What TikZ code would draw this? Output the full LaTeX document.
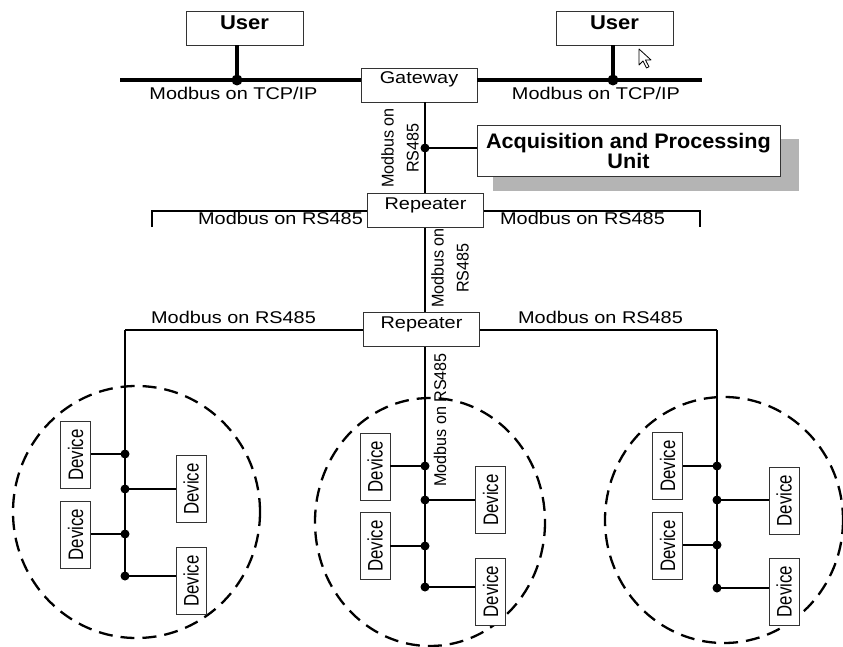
\documentclass[tikz,border=0pt]{standalone}
\usepackage{fontspec}
\setmainfont{Liberation Sans}
\newfontfamily\busfont[FakeStretch=1.17]{Liberation Sans}
\newfontfamily\vbusfont[FakeStretch=0.95]{Liberation Sans}
\newfontfamily\devfont[FakeStretch=0.8]{Liberation Sans}
\newfontfamily\userfont[FakeStretch=1.1]{Liberation Sans}
\newfontfamily\unitfont[FakeStretch=1.03]{Liberation Sans}
\definecolor{boxline}{HTML}{333333}
\definecolor{shadowgray}{HTML}{B4B4B4}
\begin{document}
\begin{tikzpicture}[x=1pt,y=-1pt,
  box/.style={draw=boxline,fill=white,line width=0.9pt,inner sep=0pt},
  userbox/.style={box,minimum width=117pt,minimum height=34pt,text height=14pt,text depth=10pt,
    font=\userfont\bfseries\fontsize{20}{24}\selectfont},
  smallbox/.style={box,minimum width=116pt,minimum height=34pt,text height=12pt,text depth=14pt,
    font=\busfont\fontsize{17}{20}\selectfont},
  device/.style={box,rotate=90,minimum width=67pt,minimum height=30pt,
    font=\devfont\fontsize{21}{24}\selectfont},
  lbl/.style={inner sep=0pt,anchor=base,font=\busfont\fontsize{17}{20}\selectfont},
  vlbl/.style={inner sep=0pt,rotate=90,align=center,font=\vbusfont\fontsize{17}{25}\selectfont},
  tcp/.style={line width=4.5pt},
  bus/.style={line width=2pt},
  zone/.style={line width=2.3pt,dash pattern=on 14pt off 8pt}]
\useasboundingbox (0,0) rectangle (843,647);

% segments
\draw[zone] (136.5,512) ellipse (123.5 and 126);
\draw[zone] (430,522) ellipse (115 and 124);
\draw[zone] (724,520) ellipse (119 and 123);

% boxes
\node[userbox] (userA) at (244.5,28) {User};
\node[userbox] (userB) at (614.5,28) {User};
\node[smallbox] (gateway) at (419,85) {Gateway};
\node[smallbox] (rep1) at (425.5,210.5) {Repeater};
\node[smallbox] (rep2) at (421.5,329.5) {Repeater};
\fill[shadowgray] (493,139) rectangle (799,191);
\node[box,minimum width=303pt,minimum height=51pt,align=center,
  font=\unitfont\bfseries\fontsize{21}{20}\selectfont] (acq) at (628.5,150.5) {Acquisition and Processing\\Unit};

% TCP/IP network
\coordinate (tcpW) at (120,80);
\coordinate (tcpE) at (702,80);
\coordinate (tapA) at (237,80);
\coordinate (tapB) at (613,80);
\draw[tcp] (tcpW) -- (tcpW -| gateway.west);
\draw[tcp] (tcpE -| gateway.east) -- (tcpE);
\draw[tcp] (tapA) -- (tapA |- userA.south);
\draw[tcp] (tapB) -- (tapB |- userB.south);
\fill (tapA) circle (5.5);
\fill (tapB) circle (5.5);
\node[lbl] (tcpLA) at (233.5,100) {Modbus on TCP/IP};
\node[lbl] (tcpLB) at (596,100) {Modbus on TCP/IP};

% RS485 trunk
\coordinate (acqTap) at (425,148);
\draw[bus] (gateway.south -| acqTap) -- (rep1.north -| acqTap);
\draw[bus] (acqTap) -- (acqTap -| acq.west);
\fill (acqTap) circle (4.5);
\draw[bus] (rep1.south -| acqTap) -- (rep2.north -| acqTap);
\node[vlbl] (rsG) at (400,148) {Modbus on\\RS485};
\node[vlbl] (rsR) at (450,268) {Modbus on\\RS485};

\coordinate (r1W) at (152,211);
\coordinate (r1E) at (700,211);
\draw[bus] ([yshift=-16pt]r1W) -- (r1W) -- (r1W -| rep1.west);
\draw[bus] (r1E -| rep1.east) -- (r1E) -- ([yshift=-16pt]r1E);
\node[lbl] (rsA) at (280.5,225) {Modbus on RS485};
\node[lbl] (rsB) at (582.5,225) {Modbus on RS485};

\coordinate (dropL) at (125,330);
\coordinate (dropR) at (717,330);
\draw[bus] (rep2.west |- dropL) -- (dropL);
\draw[bus] (rep2.east |- dropR) -- (dropR);
\node[lbl] (rsC) at (233.5,323) {Modbus on RS485};
\node[lbl] (rsD) at (600.5,323) {Modbus on RS485};

% devices
\foreach \n/\x/\y in {dA1/75.5/455, dA2/191/489, dA3/75.5/534.5, dA4/191/581,
                      dB1/375/466.5, dB2/490.5/500, dB3/375/546, dB4/490.5/591.5,
                      dC1/667.5/466, dC2/784/500.5, dC3/667.5/546, dC4/784/591.5}
  \node[device] (\n) at (\x,\y) {Device};

\foreach \n/\x/\y/\a in {dA1/125/454/south, dA2/125/489/north, dA3/125/534/south, dA4/125/576/north,
                         dB1/425/466/south, dB2/425/500/north, dB3/425/546/south, dB4/425/587/north,
                         dC1/717/466/south, dC2/717/500/north, dC3/717/545/south, dC4/717/588/north}
{
  \coordinate (t\n) at (\x,\y);
  \draw[bus] (t\n) -- (\n.\a |- t\n);
  \fill (t\n) circle (4.5);
}
\draw[bus] (dropL) -- (tdA4);
\draw[bus] (rep2.south -| acqTap) -- (tdB4);
\draw[bus] (dropR) -- (tdC4);
\node[vlbl] (rsM) at (440,420) {Modbus on RS485};

% pointer
\draw[fill=white,line width=0.8pt,line join=round] (639,49) -- ++(0,16) -- ++(4,-4) -- ++(3.5,7)
  -- ++(2.5,-1.2) -- ++(-3.5,-6.8) -- ++(5.5,0) -- cycle;
\end{tikzpicture}
\end{document}
